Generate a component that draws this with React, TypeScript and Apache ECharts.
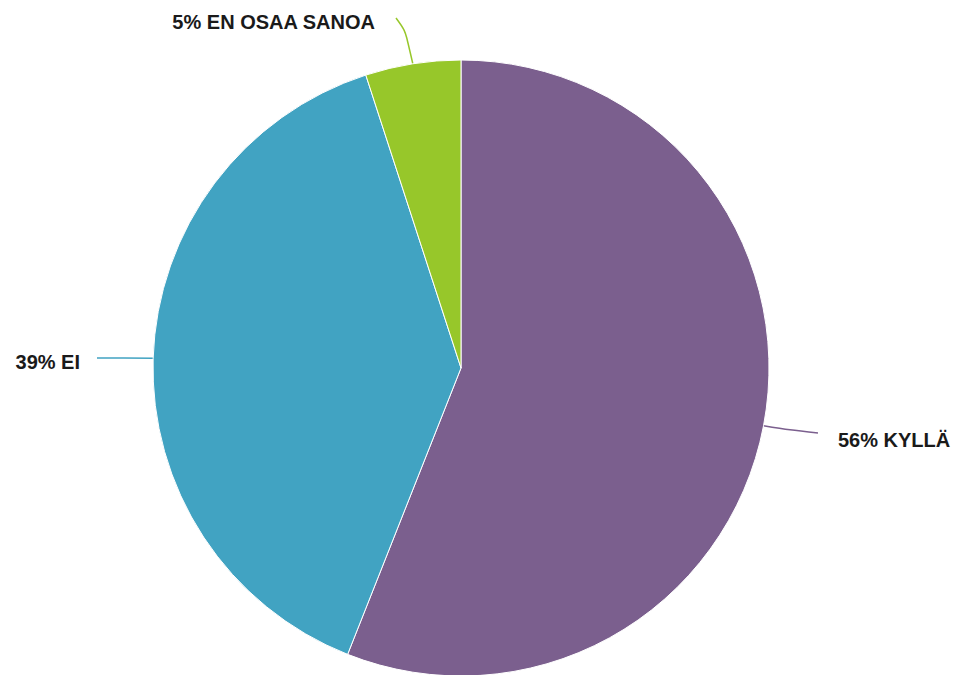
import React, { useEffect, useRef } from "react";
import * as echarts from "echarts";

const categories = ["KYLLÄ", "EI", "EN OSAA SANOA"];
const values = [56, 39, 5];
const colors = ["#7B5F8E", "#41A3C2", "#97C72A"];

export default function App() {
  const ref = useRef<HTMLDivElement>(null);
  useEffect(() => {
    if (!ref.current) return;
    const chart = echarts.init(ref.current, undefined, { renderer: "svg" });
    const labelPos: any = {
      0: { x: 838, y: 440, align: "left", bend: [[790, 430], [818, 433]] },
      1: { x: 80, y: 362, align: "right", bend: [[120, 358], [97, 358]] },
      2: { x: 375, y: 22, align: "right", bend: [[405, 30], [396, 18]] },
    };
    chart.setOption({
      animation: false,
      backgroundColor: "#ffffff",
      series: [
        {
          type: "pie",
          center: [461, 368],
          radius: 308,
          startAngle: 90,
          clockwise: true,
          data: categories.map((c, i) => ({
            name: c,
            value: values[i],
            itemStyle: { color: colors[i] },
            labelLine: { lineStyle: { color: colors[i] } },
          })),
          itemStyle: { borderColor: "#ffffff", borderWidth: 1 },
          label: {
            show: true,
            formatter: (p: any) => `${p.value}% ${p.name}`,
            fontFamily: "Liberation Sans, Arial, sans-serif",
            fontWeight: "bold",
            fontSize: 20,
            color: "#1a1a1a",
          },
          labelLine: { show: true, smooth: 0.3, lineStyle: { width: 1.5 } },
          labelLayout: (p: any) => {
            const lp = labelPos[p.dataIndex];
            const start = p.labelLinePoints ? p.labelLinePoints[0] : lp.bend[0];
            return {
              x: lp.x,
              y: lp.y,
              align: lp.align,
              verticalAlign: "middle",
              labelLinePoints: [start, lp.bend[0], lp.bend[1]],
            };
          },
        },
      ],
    });
    return () => chart.dispose();
  }, []);
  return (
    <div
      ref={ref}
      style={{ position: "fixed", left: 0, top: 0, width: 956, height: 675 }}
    />
  );
}
